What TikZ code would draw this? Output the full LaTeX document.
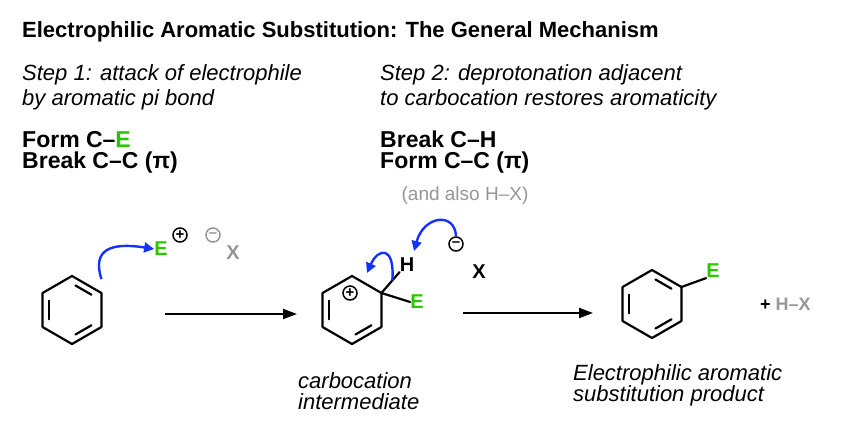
\documentclass[tikz,border=0pt]{standalone}
\usepackage{fontspec}
\setmainfont{Liberation Sans}
\usetikzlibrary{calc,arrows.meta,positioning}
\definecolor{egreen}{RGB}{40,200,0}
\definecolor{eblue}{RGB}{20,50,255}
\definecolor{xgray}{RGB}{150,150,150}

\begin{document}
\begin{tikzpicture}[x=1pt,y=-1pt]
\tikzset{
	bond/.style = { line width=2.2pt, line cap=round, line join=round },
	inner/.style = { bond, shorten <=4pt, shorten >=4pt },
	atom/.style = { font=\bfseries\fontsize{20}{20}\selectfont, inner sep=0pt },
	charge/.style = { circle, draw, line width=1.5pt, minimum size=14pt, inner sep=0pt, font=\bfseries\fontsize{15}{15}\selectfont },
	push/.style = { line width=2.4pt, draw=eblue, -{Triangle[length=10pt,width=10pt]} },
	rxn/.style = { line width=2pt, -{Triangle[length=14pt,width=10pt]} },
	heading/.style = { anchor=base west, font=\bfseries\fontsize{22}{22}\selectfont, inner sep=0pt },
	note/.style = { anchor=west, align=left, font=\itshape\fontsize{22}{25}\selectfont, inner sep=0pt },
	key/.style = { anchor=west, align=left, font=\bfseries\fontsize{23}{21}\selectfont, inner sep=0pt },
	caption/.style = { anchor=north west, align=left, font=\itshape\fontsize{22}{21}\selectfont, inner sep=0pt }
}
\useasboundingbox (0,0) rectangle (860,434);

% texts
\node (title) [heading] at (22,37) {Electrophilic Aromatic Substitution: The General Mechanism};
\node (stepA) [note] at (22,87) {Step 1: attack of electrophile\\by aromatic pi bond};
\node (keyA) [key] at (22,152) {Form C–\textcolor{egreen}{E}\\Break C–C (π)};
\node (stepB) [note] at (380,87) {Step 2: deprotonation adjacent\\to carbocation restores aromaticity};
\node (keyB) [key] at (380,152) {Break C–H\\Form C–C (π)};
\node (also) [text=xgray, font=\fontsize{19}{19}\selectfont] at (465,196) {(and also H–X)};

% rings
\foreach \r/\cx/\cy in {a/72/310, b/352/310, c/652/304} {
	\coordinate (\r0) at (\cx,\cy);
	\foreach \i/\ang in {1/90,2/30,3/-30,4/-90,5/-150,6/150}
		\coordinate (\r\i) at ($(\r0)+({34*cos(\ang)},{-34*sin(\ang)})$);
	\draw [bond] (\r1) -- (\r2) -- (\r3) -- (\r4) -- (\r5) -- (\r6) -- cycle;
}
\foreach \r/\p/\q in {a/1/2, a/3/4, a/5/6, b/3/4, b/5/6, c/1/2, c/3/4, c/5/6}
	\draw [inner] ($(\r0)!0.78!(\r\p)$) -- ($(\r0)!0.78!(\r\q)$);

% reagent
\node (elec) [atom, text=egreen] at (161,249) {E};
\node (plusA) [charge] at (180,235) {+};
\node (minusA) [charge, draw=xgray, text=xgray] at (213,235) {–};
\node (xA) [atom, text=xgray] at (233,253) {X};
\draw [push] ($(a2)+(0,-14)$) .. controls (92,250) and (110,242) .. (elec.west);

% intermediate
\node (plusB) [charge] at (350,293) {+};
\node (hB) [atom] at (407,265) {H};
\node (eB) [atom, text=egreen] at (417,302) {E};
\draw [bond] (b2) -- (hB.south west);
\draw [bond] (b2) -- (eB.west);
\coordinate (chmid) at ($(b2)!0.6!(hB.south west)$);
\draw [push] (chmid) .. controls (395,245) and (378,248) .. (367,273);
\node (minusB) [charge] at (456,244) {–};
\node (xB) [atom] at (479,272) {X};
\draw [push] (minusB.north) .. controls (455,212) and (424,215) .. (414,251);

% product
\node (eC) [atom, text=egreen] at (713,271) {E};
\draw [bond] (c2) -- (eC.south west);
\node (hx) [atom, anchor=west, font=\bfseries\fontsize{18}{18}\selectfont] at (760,304) {+ \textcolor{xgray}{H–X}};

% arrows
\coordinate (arrA1) at (165,314);
\coordinate (arrA2) at (297,314);
\coordinate (arrB1) at (463,313);
\coordinate (arrB2) at (593,313);
\draw [rxn] (arrA1) -- (arrA2);
\draw [rxn] (arrB1) -- (arrB2);

\node (capB) [caption] at (298,372) {carbocation\\intermediate};
\node (capC) [caption] at (573,364) {Electrophilic aromatic\\substitution product};
\end{tikzpicture}
\end{document}
